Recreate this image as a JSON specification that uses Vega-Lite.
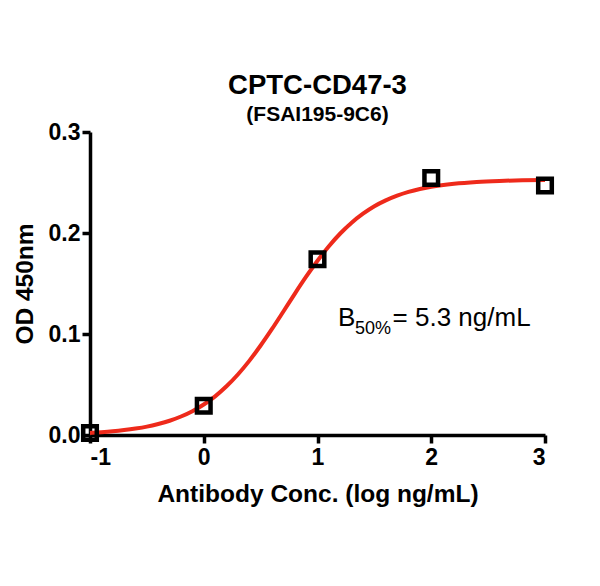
{
  "$schema": "https://vega.github.io/schema/vega-lite/v6.json",
  "autosize": "none",
  "width": 455,
  "height": 303,
  "padding": {"left": 90, "top": 132, "right": 55, "bottom": 151},
  "background": "white",
  "config": {
    "font": "Liberation Sans",
    "view": {"stroke": null},
    "axis": {
      "grid": false,
      "domainColor": "black",
      "domainWidth": 3.5,
      "tickColor": "black",
      "tickWidth": 3.5,
      "tickSize": 8,
      "labelColor": "black",
      "labelFont": "Liberation Sans",
      "labelFontWeight": "bold",
      "labelFontSize": 23,
      "titleColor": "black",
      "titleFont": "Liberation Sans",
      "titleFontWeight": "bold",
      "titleFontSize": 24.5
    }
  },
  "title": {
    "text": "CPTC-CD47-3",
    "subtitle": "(FSAI195-9C6)",
    "font": "Liberation Sans",
    "fontSize": 27.5,
    "fontWeight": "bold",
    "color": "black",
    "subtitleFont": "Liberation Sans",
    "subtitleFontSize": 21,
    "subtitleFontWeight": "bold",
    "subtitleColor": "black",
    "subtitlePadding": 5,
    "anchor": "middle",
    "offset": -4
  },
  "datasets": {
    "points": [
      {"logconc": -1, "od": 0.002},
      {"logconc": 0, "od": 0.029},
      {"logconc": 1, "od": 0.174},
      {"logconc": 2, "od": 0.2545},
      {"logconc": 3, "od": 0.247}
    ],
    "curve": [
      {"logconc": -1.0, "od": 0.0021},
      {"logconc": -0.9, "od": 0.0028},
      {"logconc": -0.8, "od": 0.0037},
      {"logconc": -0.7, "od": 0.0049},
      {"logconc": -0.6, "od": 0.0064},
      {"logconc": -0.5, "od": 0.0083},
      {"logconc": -0.4, "od": 0.0109},
      {"logconc": -0.3, "od": 0.0141},
      {"logconc": -0.2, "od": 0.0183},
      {"logconc": -0.1, "od": 0.0236},
      {"logconc": 0.0, "od": 0.0302},
      {"logconc": 0.1, "od": 0.0383},
      {"logconc": 0.2, "od": 0.0482},
      {"logconc": 0.3, "od": 0.0599},
      {"logconc": 0.4, "od": 0.0734},
      {"logconc": 0.5, "od": 0.0886},
      {"logconc": 0.6, "od": 0.1050},
      {"logconc": 0.7, "od": 0.1223},
      {"logconc": 0.8, "od": 0.1398},
      {"logconc": 0.9, "od": 0.1567},
      {"logconc": 1.0, "od": 0.1725},
      {"logconc": 1.1, "od": 0.1869},
      {"logconc": 1.2, "od": 0.1995},
      {"logconc": 1.3, "od": 0.2102},
      {"logconc": 1.4, "od": 0.2191},
      {"logconc": 1.5, "od": 0.2265},
      {"logconc": 1.6, "od": 0.2323},
      {"logconc": 1.7, "od": 0.2370},
      {"logconc": 1.8, "od": 0.2407},
      {"logconc": 1.9, "od": 0.2436},
      {"logconc": 2.0, "od": 0.2458},
      {"logconc": 2.2, "od": 0.2488},
      {"logconc": 2.4, "od": 0.2506},
      {"logconc": 2.6, "od": 0.2516},
      {"logconc": 2.8, "od": 0.2522},
      {"logconc": 3.0, "od": 0.2525}
    ]
  },
  "layer": [
    {
      "data": {"name": "curve"},
      "mark": {"type": "line", "color": "#ee2a1b", "strokeWidth": 4, "interpolate": "monotone"},
      "encoding": {
        "x": {
          "field": "logconc", "type": "quantitative",
          "scale": {"domain": [-1, 3], "nice": false},
          "axis": {"values": [-1, 0, 1, 2, 3], "labelExpr": "toString(datum.value)", "title": "Antibody Conc. (log ng/mL)", "titlePadding": 13, "labelPadding": 3}
        },
        "y": {
          "field": "od", "type": "quantitative",
          "scale": {"domain": [0, 0.3], "nice": false},
          "axis": {"values": [0, 0.1, 0.2, 0.3], "format": ".1f", "title": "OD 450nm", "titlePadding": 11, "labelPadding": 2}
        }
      }
    },
    {
      "data": {"name": "points"},
      "mark": {"type": "point", "shape": "square", "filled": false, "color": "black", "strokeWidth": 4.5, "size": 185, "opacity": 1},
      "encoding": {
        "x": {"field": "logconc", "type": "quantitative"},
        "y": {"field": "od", "type": "quantitative"}
      }
    },
    {
      "data": {"values": [{"t": "B"}]},
      "mark": {"type": "text", "align": "left", "baseline": "alphabetic", "fontSize": 26, "font": "Liberation Sans", "color": "black"},
      "encoding": {
        "x": {"datum": 1.18},
        "y": {"datum": 0.108},
        "text": {"field": "t"}
      }
    },
    {
      "data": {"values": [{"t": "50%"}]},
      "mark": {"type": "text", "align": "left", "baseline": "alphabetic", "fontSize": 18, "font": "Liberation Sans", "color": "black"},
      "encoding": {
        "x": {"datum": 1.33},
        "y": {"datum": 0.1},
        "text": {"field": "t"}
      }
    },
    {
      "data": {"values": [{"t": "= 5.3 ng/mL"}]},
      "mark": {"type": "text", "align": "left", "baseline": "alphabetic", "fontSize": 26, "font": "Liberation Sans", "color": "black"},
      "encoding": {
        "x": {"datum": 1.66},
        "y": {"datum": 0.108},
        "text": {"field": "t"}
      }
    }
  ]
}
